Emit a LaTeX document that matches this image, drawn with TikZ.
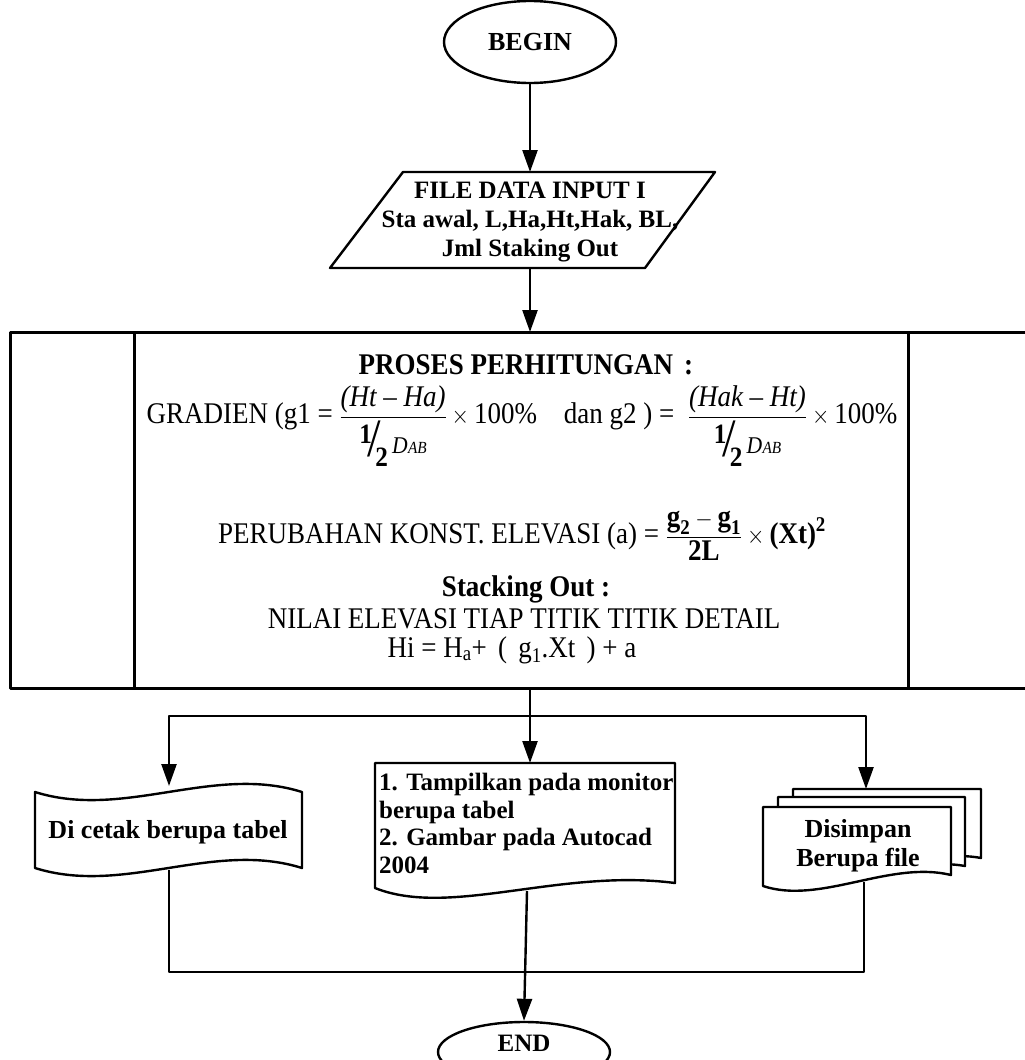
\documentclass[tikz,border=0pt]{standalone}
\usepackage{fontspec}
\usepackage{amsmath}
\usepackage{graphicx}
\setmainfont{Liberation Serif}
\usetikzlibrary{shapes.geometric,arrows.meta}

% slanted one-half followed by D_AB
\newcommand{\halfdab}{%
  \raisebox{0.42em}{\fontsize{28}{28}\selectfont\bfseries 1}\kern-0.15em
  {\fontsize{54}{54}\selectfont /}\kern-0.22em
  \raisebox{-0.32em}{\fontsize{28}{28}\selectfont\bfseries 2}\kern0.15em
  \raisebox{0.1em}{\fontsize{24}{24}\selectfont\itshape D\kern0.02em{\fontsize{17}{17}\selectfont AB}}}
% condensed text inside the process block
\newcommand{\narrow}[1]{\scalebox{0.9}[1]{#1}}

\begin{document}
\begin{tikzpicture}[x=1pt,y=-1pt,
  line width=2.4pt, line join=round,
  flow/.style={-{Triangle[length=22pt,width=15pt]}},
  lbl/.style={font=\fontsize{25}{28}\selectfont\bfseries, align=center, inner sep=0pt},
  formula/.style={font=\fontsize{30}{34}\selectfont, inner sep=0pt, align=center},
  heading/.style={font=\fontsize{30}{34}\selectfont\bfseries, inner sep=0pt},
  sheet/.style={draw, fill=white}]
\useasboundingbox (0,0) rectangle (1025,1060);

% start terminal
\node[draw, ellipse, minimum width=172pt, minimum height=82pt, lbl,
      font=\fontsize{26}{28}\selectfont\bfseries] (begin) at (530,42) {BEGIN};

% input parallelogram
\draw (403,172) -- (715,172) -- (645,268) -- (330,268) -- cycle;
\coordinate (in-top) at (530,172);
\coordinate (in-bot) at (530,268);
\node[lbl, font=\fontsize{25}{29}\selectfont\bfseries] (input) at (530,222)
  {FILE DATA INPUT I\\Sta awal, L,Ha,Ht,Hak, BL,\\Jml Staking Out};
\draw[flow] (begin.south) -- (in-top);

% process block
\draw[line width=3pt] (1025,332) -- (10,332) -- (10,688) -- (1025,688);
\draw[line width=3pt] (134,332) -- (134,688);
\draw[line width=3pt] (908,332) -- (908,688);
\coordinate (box-top) at (530,332);
\coordinate (box-bot) at (530,688);
\draw[flow] (in-bot) -- (box-top);

\node[heading] (proses) at (526,365) {\narrow{PROSES PERHITUNGAN \,:}};
\node[formula] (grad) at (522,426)
  {\narrow{$\text{GRADIEN (g1 = }\dfrac{\text{\itshape (Ht -- Ha)}}{\text{\halfdab}}\times\text{100\%\quad dan g2 ) = \ }\dfrac{\text{\itshape (Hak -- Ht)}}{\text{\halfdab}}\times\text{100\%}$}};
\node[formula] (elev) at (522,536)
  {\narrow{$\text{PERUBAHAN KONST. ELEVASI (a) = }\dfrac{\textbf{g}_{\textbf{2}}-\textbf{g}_{\textbf{1}}}{\textbf{2L}}\times\textbf{(Xt)}^{\textbf{2}}$}};
\node[heading] (stack) at (526,589) {\narrow{Stacking Out :}};
\node[formula] (nilai) at (524,619) {\narrow{NILAI ELEVASI TIAP TITIK TITIK DETAIL}};
\node[formula] (hi) at (512,650) {\narrow{Hi = H\textsubscript{a}+ \,( \,g\textsubscript{1}.Xt \,) + a}};

% branching to the three outputs
\coordinate (split) at (530,716);
\coordinate (tape-top) at (169,786);
\coordinate (doc-top) at (530,763);
\coordinate (multi-top) at (866,789);
\draw[flow] (box-bot) -- (doc-top);
\draw[flow] (split) -| (tape-top);
\draw[flow] (split) -| (multi-top);

% printed output (punched tape)
\draw (35,792) .. controls (124,820) and (213,764) .. (302,792)
  -- (302,868) .. controls (213,840) and (124,896) .. (35,868) -- cycle;
\node[lbl, font=\fontsize{26}{28}\selectfont\bfseries] (tape) at (168,832) {Di cetak berupa tabel};
\coordinate (tape-bot) at (169,870);

% display output (document)
\draw (375,763) -- (675,763) -- (675,883)
  .. controls (560,868) and (450,918) .. (375,888) -- cycle;
\node[lbl, align=left, anchor=north west, font=\fontsize{25}{27.5}\selectfont\bfseries]
  (doc) at (378,772) {1. Tampilkan pada monitor\\berupa tabel\\2. Gambar pada Autocad\\2004};
\coordinate (doc-bot) at (527,891);

% stored output (multiple documents)
\draw[sheet] (793,789) -- (981,789) -- (981,858)
  .. controls (930,848) and (850,880) .. (793,866) -- cycle;
\draw[sheet] (778,797) -- (965,797) -- (965,866)
  .. controls (910,856) and (835,890) .. (778,876) -- cycle;
\draw[sheet] (763,807) -- (951,807) -- (951,875)
  .. controls (890,860) and (820,905) .. (763,886) -- cycle;
\node[lbl, font=\fontsize{26}{29}\selectfont\bfseries] (multi) at (858,846) {Disimpan\\Berupa file};
\coordinate (multi-bot) at (864,882);

% merge and end terminal
\coordinate (merge-r) at (864,972);
\draw (tape-bot) |- (merge-r) -- (multi-bot);
\node[draw, ellipse, minimum width=172pt, minimum height=60pt] (end) at (524,1052) {};
\node[lbl] (endtxt) at (524,1043) {END};
\draw[flow] (doc-bot) -- (end.north);
\end{tikzpicture}
\end{document}
